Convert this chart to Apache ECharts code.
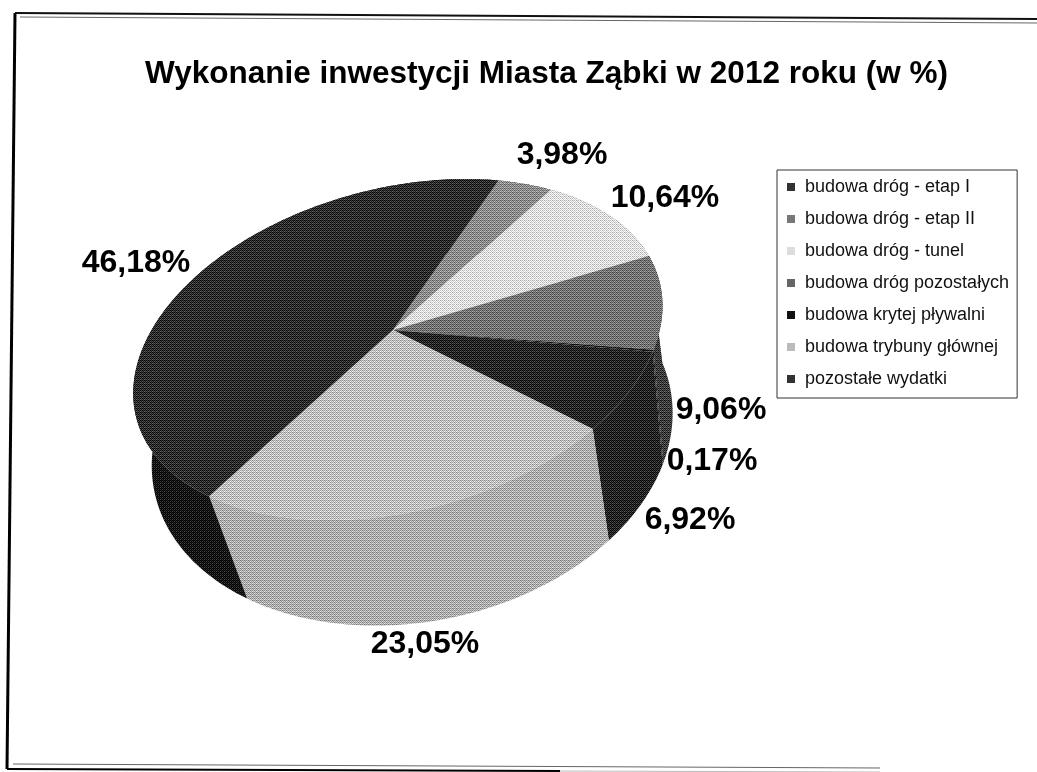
<!DOCTYPE html>
<html>
<head>
<meta charset="utf-8">
<script src="https://cdn.jsdelivr.net/npm/echarts@6/dist/echarts.min.js"></script>
<style>html,body{margin:0;background:#fff}#chart{width:1037px;height:772px}</style>
</head>
<body>
<div id="chart"></div>
<script>
var categories = ["budowa dróg - etap I", "budowa dróg - etap II", "budowa dróg - tunel", "budowa dróg pozostałych", "budowa krytej pływalni", "budowa trybuny głównej", "pozostałe wydatki"];
var values = [3.98, 10.64, 9.06, 0.17, 6.92, 23.05, 46.18];
var swatchColors = ["#333333", "#777777", "#dddddd", "#666666", "#111111", "#bbbbbb", "#333333"];
// jasnosc wycinkow: gora i bok
var topLevels = [0.55, 0.88, 0.45, 0.06, 0.14, 0.75, 0.17];
var wallLevels = [0.3, 0.5, 0.24, 0.05, 0.13, 0.68, 0.05];
var labelCenters = [[562, 155], [665, 198], [721, 410], [712, 461], [690, 520], [425, 644], [136, 263]];

// rzut okregu na ekran (perspektywa wykresu 3D), osobno gorna i dolna krawedz
var cx = 393, cy = 330;
var topRim = [235.58, 115.87, 32.36, -164.94, -0.0709, 0.1028, 0, 0];
var bottomRim = [235.95, 107.86, 52.91, -177.41, 0.0037, 0.0802, 28.77, 95.19];
function rim(p, t) {
    var X = Math.sin(t), Y = Math.cos(t), w = 1 + p[4] * X + p[5] * Y;
    return [cx + (p[0] * X + p[1] * Y) / w + p[6], cy + (p[2] * X + p[3] * Y) / w + p[7]];
}

// drobne ziarno jak na skanie
var bayer = [0, 8, 2, 10, 12, 4, 14, 6, 3, 11, 1, 9, 15, 7, 13, 5];
function grain(level) {
    var c = document.createElement("canvas");
    c.width = c.height = 4;
    var g = c.getContext("2d");
    for (var i = 0; i < 16; i++) {
        var v = level + 0.5 * ((bayer[i] + 0.5) / 16 - 0.5);
        v = Math.round(Math.min(1, Math.max(0, v)) * 255);
        g.fillStyle = "rgb(" + v + "," + v + "," + v + ")";
        g.fillRect(i % 4, Math.floor(i / 4), 1, 1);
    }
    return { image: c, repeat: "repeat" };
}
var topFills = topLevels.map(grain), wallFills = wallLevels.map(grain);
var total = values.reduce(function(a, b) { return a + b; }, 0);
function startOf(i) {
    return values.slice(0, i).reduce(function(a, b) { return a + b; }, 0) / total * 2 * Math.PI;
}

function renderSlice(params, api) {
    var i = params.seriesIndex, a0 = startOf(i), a1 = a0 + api.value(0) / total * 2 * Math.PI;
    var n = Math.max(2, Math.ceil((a1 - a0) * 60)), upper = [], lower = [];
    for (var k = 0; k <= n; k++) {
        var t = a0 + (a1 - a0) * k / n;
        upper.push(rim(topRim, t));
        lower.push(rim(bottomRim, t));
    }
    return {
        type: "group",
        children: [
            { type: "polygon", z2: 1, shape: { points: upper.concat(lower.slice().reverse()) }, style: { fill: wallFills[i] } },
            { type: "polygon", z2: 2, shape: { points: [[cx, cy]].concat(upper) }, style: { fill: topFills[i] } },
            { type: "text", z2: 3, x: labelCenters[i][0], y: labelCenters[i][1], style: {
                text: api.value(0).toFixed(2).replace(".", ",") + "%", fill: "#000",
                font: "bold 32px 'Liberation Sans'", align: "center", verticalAlign: "middle" } }
        ]
    };
}

var myChart = echarts.init(document.getElementById("chart"));
myChart.setOption({
    animation: false,
    backgroundColor: "#fff",
    title: {
        text: "Wykonanie inwestycji Miasta Ząbki w 2012 roku (w %)",
        left: 140, top: 53,
        textStyle: { color: "#000", fontFamily: "Liberation Sans", fontSize: 31.5, fontWeight: "bold" }
    },
    legend: {
        orient: "vertical", left: 777, top: 170, padding: [8, 8, 10, 10],
        itemWidth: 8, itemHeight: 8, itemGap: 14, icon: "rect",
        borderColor: "#333", borderWidth: 1,
        textStyle: { color: "#111", fontFamily: "Liberation Sans", fontSize: 18, padding: [0, 0, 0, 5] },
        selectedMode: false,
        data: categories
    },
    //ramka skanu
    graphic: [
        { type: "line", shape: { x1: 15, y1: 13, x2: 7, y2: 769 }, style: { stroke: "#000", lineWidth: 3 } },
        { type: "line", shape: { x1: 15, y1: 13, x2: 1037, y2: 19 }, style: { stroke: "#111", lineWidth: 2 } },
        { type: "line", shape: { x1: 20, y1: 17, x2: 1037, y2: 23 }, style: { stroke: "#666", lineWidth: 1 } },
        { type: "line", shape: { x1: 7, y1: 769, x2: 560, y2: 771 }, style: { stroke: "#000", lineWidth: 2 } },
        { type: "line", shape: { x1: 560, y1: 771, x2: 880, y2: 772 }, style: { stroke: "#bbb", lineWidth: 1 } },
        { type: "line", shape: { x1: 13, y1: 764, x2: 880, y2: 768 }, style: { stroke: "#666", lineWidth: 1 } }
    ],
    series: categories.map(function(name, i) {
        return {
            type: "custom", name: name, coordinateSystem: "none",
            itemStyle: { color: swatchColors[i] },
            renderItem: renderSlice,
            data: [[values[i]]]
        };
    })
});
</script>
</body>
</html>
